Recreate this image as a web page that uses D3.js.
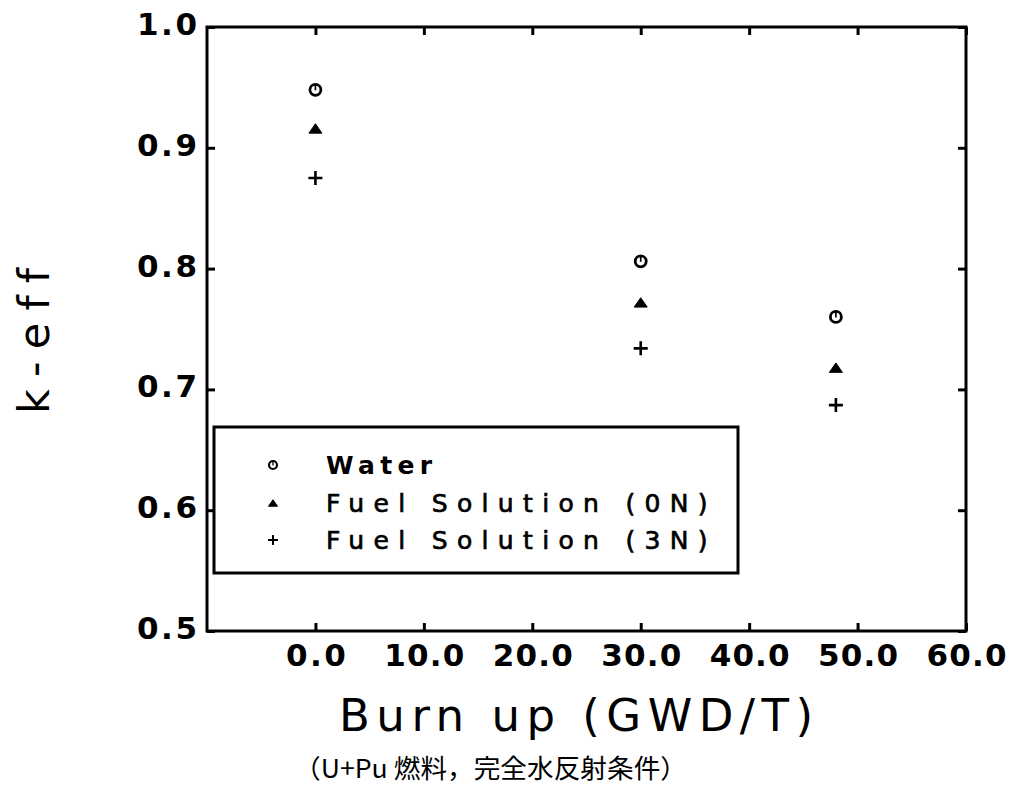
<!DOCTYPE html>
<html>
<head>
<meta charset="utf-8">
<script src="https://cdn.jsdelivr.net/npm/d3@7"></script>
<style>
  html, body { margin: 0; padding: 0; background: #fff; }
  svg { display: block; }
  text { font-variant-ligatures: none; font-feature-settings: "liga" 0, "clig" 0; }
</style>
</head>
<body>
<svg id="chart" width="1013" height="791"></svg>
<script>
// ---- data ----
const burnup = [0, 30, 48];
const water = [0.948, 0.806, 0.760];
const fuel0N = [0.916, 0.772, 0.718];
const fuel3N = [0.875, 0.734, 0.687];
const seriesNames = ["Water", "Fuel Solution (0N)", "Fuel Solution (3N)"];
const xTicks = [0, 10, 20, 30, 40, 50, 60];
const yTicks = [0.5, 0.6, 0.7, 0.8, 0.9, 1.0];
const xTitle = "Burn up (GWD/T)";
const yTitle = "k-eff";
const caption = "（U+Pu 燃料，完全水反射条件）";

// ---- layout ----
const L = 207, R = 966, T = 27, B = 631;
const svg = d3.select("#chart");
const x = d3.scaleLinear().domain([-10, 60]).range([L, R]);
const y = d3.scaleLinear().domain([0.5, 1.0]).range([B, T]);

const font = "'DejaVu Sans', 'Liberation Sans', sans-serif";

// axes
const gB = svg.append("g").attr("transform", `translate(0,${B})`)
  .call(d3.axisBottom(x).tickValues(xTicks).tickSizeInner(-8).tickSizeOuter(0)
        .tickPadding(13).tickFormat(d3.format(".1f")));
const gT = svg.append("g").attr("transform", `translate(0,${T})`)
  .call(d3.axisTop(x).tickValues(xTicks).tickSizeInner(-8).tickSizeOuter(0).tickFormat(""));
const gL = svg.append("g").attr("transform", `translate(${L},0)`)
  .call(d3.axisLeft(y).tickValues(yTicks).tickSizeInner(-8).tickSizeOuter(0)
        .tickPadding(10).tickFormat(d3.format(".1f")));
const gR = svg.append("g").attr("transform", `translate(${R},0)`)
  .call(d3.axisRight(y).tickValues(yTicks).tickSizeInner(-8).tickSizeOuter(0).tickFormat(""));

[gB, gT, gL, gR].forEach(g => {
  g.select(".domain").remove();
  g.selectAll(".tick line").attr("stroke", "#000").attr("stroke-width", 3);
});
[gB, gL].forEach(g => {
  g.selectAll(".tick text")
    .attr("fill", "#000")
    .style("font-family", font)
    .style("font-weight", "bold")
    .style("font-size", "31px")
    .attr("lengthAdjust", "spacing")
    .attr("textLength", function() { return this.textContent.length * 20; });
});
gL.selectAll(".tick text").attr("dy", "0.24em");

// frame
svg.append("rect").attr("x", L).attr("y", T).attr("width", R - L).attr("height", B - T)
  .attr("fill", "none").attr("stroke", "#000").attr("stroke-width", 3);

// ---- markers ----
function drawCircle(g, cx, cy, r, sw) {
  g.append("circle").attr("cx", cx).attr("cy", cy).attr("r", r)
    .attr("fill", "none").attr("stroke", "#000").attr("stroke-width", sw);
  g.append("line").attr("x1", cx).attr("x2", cx).attr("y1", cy - r).attr("y2", cy + 0.5)
    .attr("stroke", "#000").attr("stroke-width", sw * 0.6);
}
function drawTriangle(g, cx, cy, s) {
  const h = s * 0.72;
  g.append("path")
    .attr("d", `M${cx - s / 2},${cy + h / 2} L${cx + s / 2},${cy + h / 2} L${cx},${cy - h / 2} Z`)
    .attr("fill", "#000").attr("stroke", "#000").attr("stroke-width", 1).attr("stroke-linejoin", "round");
}
function drawPlus(g, cx, cy, s, sw) {
  g.append("path")
    .attr("d", `M${cx - s / 2},${cy} H${cx + s / 2} M${cx},${cy - s / 2} V${cy + s / 2}`)
    .attr("stroke", "#000").attr("stroke-width", sw).attr("fill", "none");
}

const marks = svg.append("g");
burnup.forEach((b, i) => {
  drawCircle(marks, x(b), y(water[i]), 5.5, 2.8);
  drawTriangle(marks, x(b), y(fuel0N[i]), 13);
  drawPlus(marks, x(b), y(fuel3N[i]), 14, 2.6);
});

// ---- legend ----
const lg = svg.append("g");
lg.append("rect").attr("x", 214).attr("y", 427).attr("width", 524).attr("height", 146)
  .attr("fill", "#fff").attr("stroke", "#000").attr("stroke-width", 3);
const rowY = [465, 503, 540];
drawCircle(lg, 273, rowY[0], 4, 2.2);
drawTriangle(lg, 273, rowY[1], 9);
drawPlus(lg, 273, rowY[2], 10, 2);
seriesNames.forEach((name, i) => {
  lg.append("text")
    .attr("x", 326).attr("y", rowY[i] + 9)
    .attr("lengthAdjust", "spacing")
    .attr("textLength", name.length * 21.2)
    .style("font-family", font)
    .style("font-size", "25px")
    .style("font-weight", i === 0 ? "bold" : "normal")
    .attr("stroke", i === 0 ? "none" : "#000")
    .attr("stroke-width", 0.7)
    .attr("fill", "#000")
    .text(name);
});

// ---- titles ----
svg.append("text")
  .attr("x", 576).attr("y", 731)
  .attr("text-anchor", "middle")
  .attr("lengthAdjust", "spacing")
  .attr("textLength", 474)
  .style("font-family", font)
  .style("font-size", "45px")
  .attr("fill", "#000")
  .text(xTitle);

svg.append("text")
  .attr("transform", "translate(49,341) rotate(-90)")
  .attr("text-anchor", "middle")
  .attr("lengthAdjust", "spacing")
  .attr("textLength", 146)
  .style("font-family", font)
  .style("font-size", "43px")
  .attr("fill", "#000")
  .text(yTitle);

svg.append("text")
  .attr("x", 294).attr("y", 778)
  .attr("lengthAdjust", "spacingAndGlyphs")
  .attr("textLength", 393)
  .style("font-family", "'Noto Sans CJK JP', 'Noto Sans CJK SC', sans-serif")
  .style("font-size", "26px")
  .attr("fill", "#000")
  .text(caption);
</script>
</body>
</html>
